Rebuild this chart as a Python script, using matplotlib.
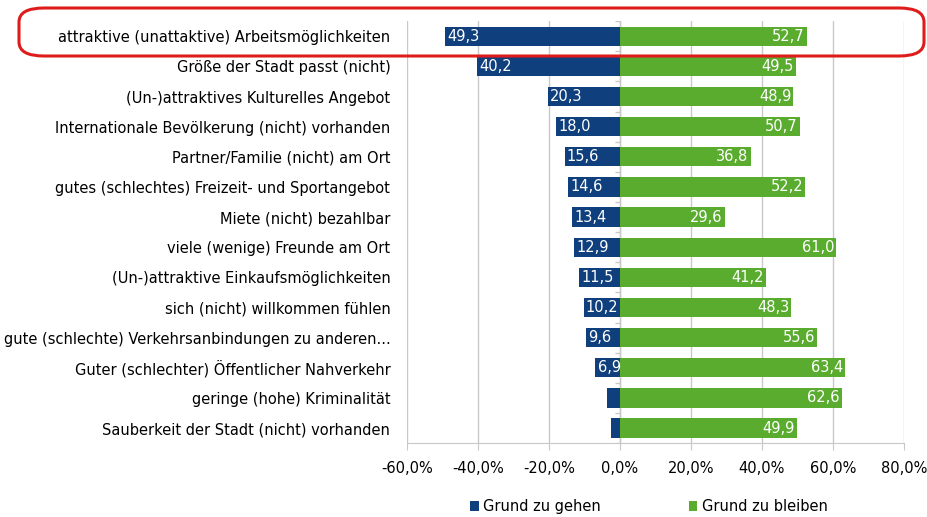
import numpy as np
import matplotlib.pyplot as plt
from matplotlib.patches import FancyBboxPatch

# --- Daten ---
kategorien = [
    "attraktive (unattaktive) Arbeitsmöglichkeiten",
    "Größe der Stadt passt (nicht)",
    "(Un-)attraktives Kulturelles Angebot",
    "Internationale Bevölkerung (nicht) vorhanden",
    "Partner/Familie (nicht) am Ort",
    "gutes (schlechtes) Freizeit- und Sportangebot",
    "Miete (nicht) bezahlbar",
    "viele (wenige) Freunde am Ort",
    "(Un-)attraktive Einkaufsmöglichkeiten",
    "sich (nicht) willkommen fühlen",
    "gute (schlechte) Verkehrsanbindungen zu anderen...",
    "Guter (schlechter) Öffentlicher Nahverkehr",
    "geringe (hohe) Kriminalität",
    "Sauberkeit der Stadt (nicht) vorhanden",
]
gehen = [49.3, 40.2, 20.3, 18.0, 15.6, 14.6, 13.4, 12.9, 11.5, 10.2, 9.6, 6.9, 3.6, 2.6]
bleiben = [52.7, 49.5, 48.9, 50.7, 36.8, 52.2, 29.6, 61.0, 41.2, 48.3, 55.6, 63.4, 62.6, 49.9]
beschriftet_gehen = [True] * 12 + [False, False]

blau = "#0f3f7c"
gruen = "#5aac2f"
grau = "#c8c8c8"

plt.rcParams["font.family"] = "DejaVu Sans"

fig = plt.figure(figsize=(9.27, 5.17), dpi=100)
ax = fig.add_axes([0.439, 0.143, 0.536, 0.816])

y = np.arange(len(kategorien))
neg = -np.array(gehen)
ax.barh(y, neg, height=0.64, color=blau, zorder=3, label="Grund zu gehen")
ax.barh(y, bleiben, height=0.64, color=gruen, zorder=3, label="Grund zu bleiben")

def fmt(v):
    return f"{v:.1f}".replace(".", ",")

for i in y:
    if beschriftet_gehen[i]:
        ax.text(neg[i] + 0.6, i, fmt(gehen[i]), color="white", fontsize=10.5,
                va="center", ha="left", zorder=4)
    ax.text(bleiben[i] - 0.6, i, fmt(bleiben[i]), color="white", fontsize=10.5,
            va="center", ha="right", zorder=4)

ax.set_xlim(-60, 80)
ax.set_ylim(len(kategorien) - 0.5, -0.5)
ax.set_xticks(np.arange(-60, 81, 20))
ax.set_xticklabels([fmt(v) + "%" for v in np.arange(-60, 81, 20)], fontsize=10.5)
ax.set_yticks(y)
ax.set_yticklabels(kategorien, fontsize=10.5)
ax.tick_params(axis="y", length=0, pad=12)
ax.tick_params(axis="x", length=5, color=grau, pad=8)
ax.grid(axis="x", color=grau, linewidth=1, zorder=0)
for s in ["top", "right", "left"]:
    ax.spines[s].set_visible(False)
ax.spines["bottom"].set_color(grau)

# Achse bei 0 mit kleinen Teilstrichen zwischen den Kategorien
ax.axvline(0, color=grau, linewidth=1, zorder=1)
grenzen = np.arange(-0.5, len(kategorien), 1.0)
ax.hlines(grenzen, -1.3, 0, color=grau, linewidth=1, zorder=1)

handles, labels = ax.get_legend_handles_labels()
fig.legend(handles, labels, loc="center", bbox_to_anchor=(0.70, 0.02), ncol=2,
           frameon=False, fontsize=10.5, handlelength=0.6, handleheight=0.6,
           handletextpad=0.3, columnspacing=6.0, borderpad=0)

# roter Rahmen um die erste Zeile
rahmen = FancyBboxPatch((19 / 927, 1 - 56 / 517), 905 / 927, 48 / 517,
                        boxstyle="round,pad=0,rounding_size=0.027",
                        transform=fig.transFigure, fill=False,
                        edgecolor="#e01b1b", linewidth=2.2, zorder=10)
fig.patches.append(rahmen)

fig.savefig("out.png", dpi=100)
